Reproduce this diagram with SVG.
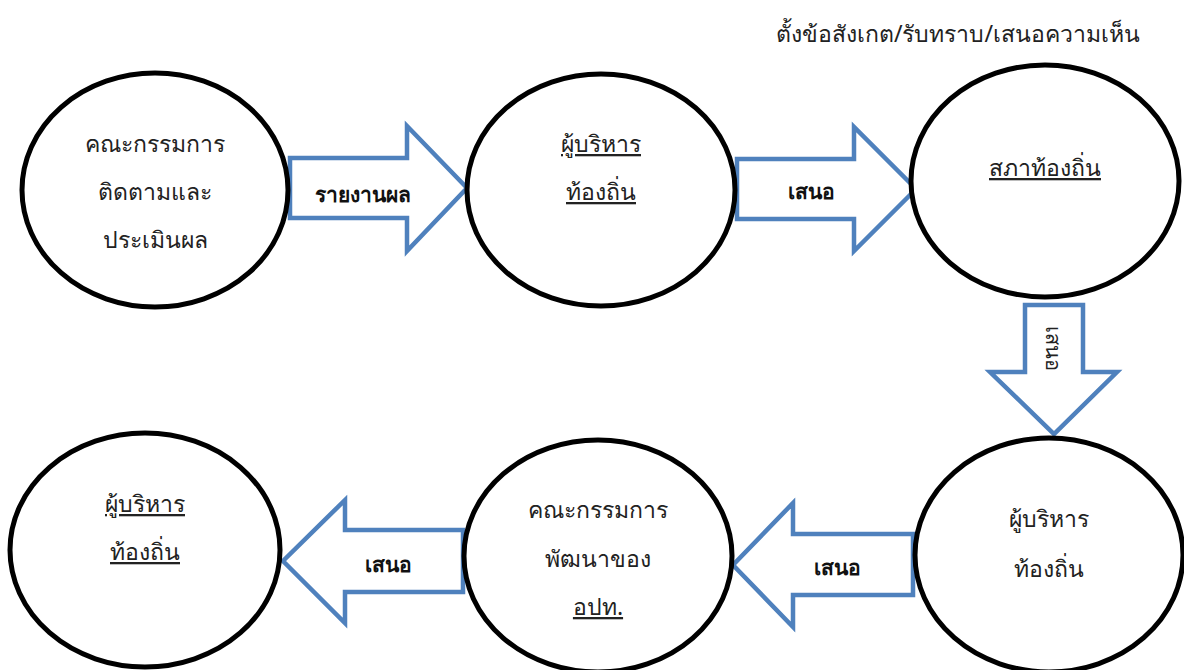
<svg xmlns="http://www.w3.org/2000/svg" width="1184" height="670" viewBox="0 0 1184 670">
<style>
.node{fill:#fff;stroke:#000;stroke-width:5}
.arr{fill:#fff;stroke:#4F81BD;stroke-width:4.5;stroke-linejoin:miter}
.t{font-family:"Noto Sans","DejaVu Sans",sans-serif;font-size:23px;fill:#222;text-anchor:middle}
.u{text-decoration:underline}
.b{font-family:"Noto Sans","DejaVu Sans",sans-serif;font-size:21px;font-weight:bold;fill:#111;text-anchor:middle}
.r{font-family:"Noto Sans","DejaVu Sans",sans-serif;font-size:20px;fill:#222;text-anchor:middle}
</style>
<rect width="1184" height="670" fill="#fff"/>
<text class="t" x="958" y="42">ตั้งข้อสังเกต/รับทราบ/เสนอความเห็น</text>
<g id="connectors">
<g id="a1"><polygon class="arr" points="290,158 407,158 407,126 467,188 407,251 407,218 290,218"/><text class="b" x="363" y="202">รายงานผล</text></g>
<g id="a2"><polygon class="arr" points="737,159 854,159 854,127 916,189 854,251 854,219 737,219"/><text class="b" x="811" y="199">เสนอ</text></g>
<g id="a3"><polygon class="arr" points="1025,305 1083,305 1083,372 1117,372 1054,434 990,372 1025,372"/><text class="r" transform="translate(1046,348) rotate(90)" x="0" y="0">เสนอ</text></g>
<g id="a4"><polygon class="arr" points="913,534 793,534 793,503 733,565 793,627 793,595 913,595"/><text class="b" x="837" y="575">เสนอ</text></g>
<g id="a5"><polygon class="arr" points="463,530 345,530 345,500 283,561 345,623 345,592 463,592"/><text class="b" x="388" y="572">เสนอ</text></g>
</g>
<g id="n1"><ellipse class="node" cx="155" cy="190" rx="133" ry="117"/>
<text class="t" x="155" y="152">คณะกรรมการ</text><text class="t" x="155" y="200">ติดตามและ</text><text class="t" x="155" y="248">ประเมินผล</text></g>
<g id="n2"><ellipse class="node" cx="601" cy="190" rx="134" ry="116"/>
<text class="t u" x="601" y="152">ผู้บริหาร</text><text class="t u" x="601" y="200">ท้องถิ่น</text></g>
<g id="n3"><ellipse class="node" cx="1045" cy="181" rx="134" ry="116"/>
<text class="t u" x="1045" y="176">สภาท้องถิ่น</text></g>
<g id="n4"><ellipse class="node" cx="1049" cy="555" rx="134" ry="117"/>
<text class="t" x="1049" y="527">ผู้บริหาร</text><text class="t" x="1049" y="577">ท้องถิ่น</text></g>
<g id="n5"><ellipse class="node" cx="598" cy="556" rx="134" ry="116"/>
<text class="t" x="598" y="518">คณะกรรมการ</text><text class="t" x="598" y="567">พัฒนาของ</text><text class="t u" x="598" y="615">อปท.</text></g>
<g id="n6"><ellipse class="node" cx="145" cy="550" rx="135" ry="117"/>
<text class="t u" x="145" y="512">ผู้บริหาร</text><text class="t u" x="145" y="560">ท้องถิ่น</text></g>
</svg>
